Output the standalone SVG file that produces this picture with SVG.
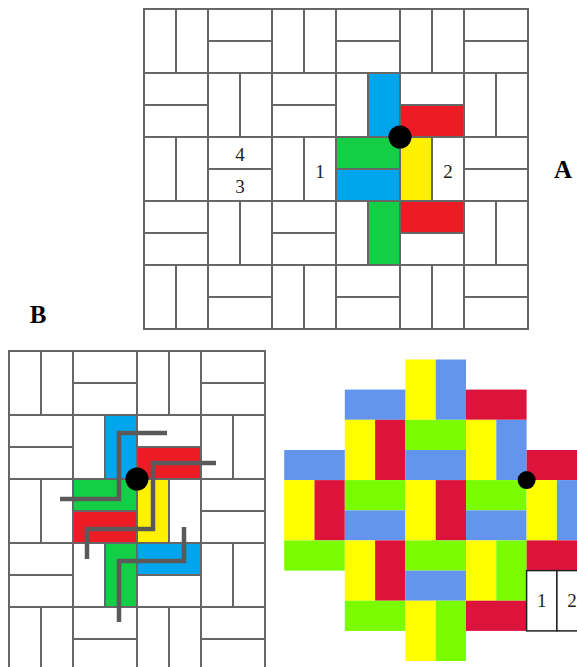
<svg xmlns="http://www.w3.org/2000/svg" width="577" height="667" viewBox="0 0 577 667">
<style>
.b{fill:#fff;stroke:#666;stroke-width:2}
.bl{fill:#00A6ED}.rd{fill:#ED1C24}.gr{fill:#12CF45}.ye{fill:#FFF100}
.t{font-family:"Liberation Serif","DejaVu Serif",serif;font-size:19px;fill:#222;text-anchor:middle}
.L{font-family:"Liberation Serif","DejaVu Serif",serif;font-size:25px;font-weight:bold;fill:#000;text-anchor:middle}
.p{fill:none;stroke:#5a5a5a;stroke-width:4.5}
.cb{fill:#6495ED}.cy{fill:#FFFF00}.cr{fill:#DC143C}.cg{fill:#7CFC00}
.w{fill:#fff;stroke:#222;stroke-width:1.5}
</style>
<rect width="577" height="667" fill="#fff"/>
<g id="diagramA">
<g class="b">
<!-- row 0 -->
<rect x="144" y="9" width="32" height="64"/><rect x="176" y="9" width="32" height="64"/>
<rect x="208" y="9" width="64" height="32"/><rect x="208" y="41" width="64" height="32"/>
<rect x="272" y="9" width="32" height="64"/><rect x="304" y="9" width="32" height="64"/>
<rect x="336" y="9" width="64" height="32"/><rect x="336" y="41" width="64" height="32"/>
<rect x="400" y="9" width="32" height="64"/><rect x="432" y="9" width="32" height="64"/>
<rect x="464" y="9" width="64" height="32"/><rect x="464" y="41" width="64" height="32"/>
<!-- row 1 -->
<rect x="144" y="73" width="64" height="32"/><rect x="144" y="105" width="64" height="32"/>
<rect x="208" y="73" width="32" height="64"/><rect x="240" y="73" width="32" height="64"/>
<rect x="272" y="73" width="64" height="32"/><rect x="272" y="105" width="64" height="32"/>
<rect x="336" y="73" width="32" height="64"/><rect x="368" y="73" width="32" height="64" class="bl"/>
<rect x="400" y="73" width="64" height="32"/><rect x="400" y="105" width="64" height="32" class="rd"/>
<rect x="464" y="73" width="32" height="64"/><rect x="496" y="73" width="32" height="64"/>
<!-- row 2 -->
<rect x="144" y="137" width="32" height="64"/><rect x="176" y="137" width="32" height="64"/>
<rect x="208" y="137" width="64" height="32"/><rect x="208" y="169" width="64" height="32"/>
<rect x="272" y="137" width="32" height="64"/><rect x="304" y="137" width="32" height="64"/>
<rect x="336" y="137" width="64" height="32" class="gr"/><rect x="336" y="169" width="64" height="32" class="bl"/>
<rect x="400" y="137" width="32" height="64" class="ye"/><rect x="432" y="137" width="32" height="64"/>
<rect x="464" y="137" width="64" height="32"/><rect x="464" y="169" width="64" height="32"/>
<!-- row 3 -->
<rect x="144" y="201" width="64" height="32"/><rect x="144" y="233" width="64" height="32"/>
<rect x="208" y="201" width="32" height="64"/><rect x="240" y="201" width="32" height="64"/>
<rect x="272" y="201" width="64" height="32"/><rect x="272" y="233" width="64" height="32"/>
<rect x="336" y="201" width="32" height="64"/><rect x="368" y="201" width="32" height="64" class="gr"/>
<rect x="400" y="201" width="64" height="32" class="rd"/><rect x="400" y="233" width="64" height="32"/>
<rect x="464" y="201" width="32" height="64"/><rect x="496" y="201" width="32" height="64"/>
<!-- row 4 -->
<rect x="144" y="265" width="32" height="64"/><rect x="176" y="265" width="32" height="64"/>
<rect x="208" y="265" width="64" height="32"/><rect x="208" y="297" width="64" height="32"/>
<rect x="272" y="265" width="32" height="64"/><rect x="304" y="265" width="32" height="64"/>
<rect x="336" y="265" width="64" height="32"/><rect x="336" y="297" width="64" height="32"/>
<rect x="400" y="265" width="32" height="64"/><rect x="432" y="265" width="32" height="64"/>
<rect x="464" y="265" width="64" height="32"/><rect x="464" y="297" width="64" height="32"/>
</g>
<circle cx="400" cy="137" r="11.5" fill="#000"/>
<text class="t" x="240" y="161">4</text>
<text class="t" x="240" y="193">3</text>
<text class="t" x="320" y="178">1</text>
<text class="t" x="448" y="178">2</text>
<text class="L" x="563" y="178">A</text>
</g>
<g id="diagramB">
<g class="b">
<!-- row 0 -->
<rect x="9" y="351" width="32" height="64"/><rect x="41" y="351" width="32" height="64"/>
<rect x="73" y="351" width="64" height="32"/><rect x="73" y="383" width="64" height="32"/>
<rect x="137" y="351" width="32" height="64"/><rect x="169" y="351" width="32" height="64"/>
<rect x="201" y="351" width="64" height="32"/><rect x="201" y="383" width="64" height="32"/>
<!-- row 1 -->
<rect x="9" y="415" width="64" height="32"/><rect x="9" y="447" width="64" height="32"/>
<rect x="73" y="415" width="32" height="64"/><rect x="105" y="415" width="32" height="64" class="bl"/>
<rect x="137" y="415" width="64" height="32"/><rect x="137" y="447" width="64" height="32" class="rd"/>
<rect x="201" y="415" width="32" height="64"/><rect x="233" y="415" width="32" height="64"/>
<!-- row 2 -->
<rect x="9" y="479" width="32" height="64"/><rect x="41" y="479" width="32" height="64"/>
<rect x="73" y="479" width="64" height="32" class="gr"/><rect x="73" y="511" width="64" height="32" class="rd"/>
<rect x="137" y="479" width="32" height="64" class="ye"/><rect x="169" y="479" width="32" height="64"/>
<rect x="201" y="479" width="64" height="32"/><rect x="201" y="511" width="64" height="32"/>
<!-- row 3 -->
<rect x="9" y="543" width="64" height="32"/><rect x="9" y="575" width="64" height="32"/>
<rect x="73" y="543" width="32" height="64"/><rect x="105" y="543" width="32" height="64" class="gr"/>
<rect x="137" y="543" width="64" height="32" class="bl"/><rect x="137" y="575" width="64" height="32"/>
<rect x="201" y="543" width="32" height="64"/><rect x="233" y="543" width="32" height="64"/>
<!-- row 4 -->
<rect x="9" y="607" width="32" height="64"/><rect x="41" y="607" width="32" height="64"/>
<rect x="73" y="607" width="64" height="32"/><rect x="73" y="639" width="64" height="32"/>
<rect x="137" y="607" width="32" height="64"/><rect x="169" y="607" width="32" height="64"/>
<rect x="201" y="607" width="64" height="32"/><rect x="201" y="639" width="64" height="32"/>
</g>
<g id="connectors">
<path class="p" d="M167 433 L119 433 L119 499 L60 499"/>
<path class="p" d="M216 463 L153 463 L153 529 L87 529 L87 559"/>
<path class="p" d="M184 527 L184 561 L119 561 L119 622"/>
</g>
<circle cx="137" cy="479" r="11.5" fill="#000"/>
<text class="L" x="38" y="323">B</text>
</g>
<g id="diagramC">
<!-- x0=284.2 u=30.3, y0=359.5 u=30.15 -->
<rect class="cy" x="405.4" y="359.5" width="30.3" height="60.3"/>
<rect class="cb" x="435.7" y="359.5" width="30.3" height="60.3"/>
<rect class="cb" x="344.8" y="389.6" width="60.6" height="30.2"/>
<rect class="cr" x="466" y="389.6" width="60.6" height="30.2"/>
<rect class="cy" x="344.8" y="419.8" width="30.3" height="60.3"/>
<rect class="cr" x="375.1" y="419.8" width="30.3" height="60.3"/>
<rect class="cg" x="405.4" y="419.8" width="60.6" height="30.2"/>
<rect class="cb" x="405.4" y="450" width="60.6" height="30.1"/>
<rect class="cy" x="466" y="419.8" width="30.3" height="60.3"/>
<rect class="cb" x="496.3" y="419.8" width="30.3" height="60.3"/>
<rect class="cb" x="284.2" y="450" width="60.6" height="30.1"/>
<rect class="cr" x="526.6" y="450" width="60.6" height="30.1"/>
<rect class="cy" x="284.2" y="480.1" width="30.3" height="60.3"/>
<rect class="cr" x="314.5" y="480.1" width="30.3" height="60.3"/>
<rect class="cg" x="344.8" y="480.1" width="60.6" height="30.2"/>
<rect class="cb" x="344.8" y="510.3" width="60.6" height="30.1"/>
<rect class="cy" x="405.4" y="480.1" width="30.3" height="60.3"/>
<rect class="cr" x="435.7" y="480.1" width="30.3" height="60.3"/>
<rect class="cg" x="466" y="480.1" width="60.6" height="30.2"/>
<rect class="cb" x="466" y="510.3" width="60.6" height="30.1"/>
<rect class="cy" x="526.6" y="480.1" width="30.3" height="60.3"/>
<rect class="cb" x="556.9" y="480.1" width="30.3" height="60.3"/>
<rect class="cg" x="284.2" y="540.4" width="60.6" height="30.2"/>
<rect class="cy" x="344.8" y="540.4" width="30.3" height="60.3"/>
<rect class="cr" x="375.1" y="540.4" width="30.3" height="60.3"/>
<rect class="cg" x="405.4" y="540.4" width="60.6" height="30.2"/>
<rect class="cb" x="405.4" y="570.6" width="60.6" height="30.1"/>
<rect class="cy" x="466" y="540.4" width="30.3" height="60.3"/>
<rect class="cg" x="496.3" y="540.4" width="30.3" height="60.3"/>
<rect class="cr" x="526.6" y="540.4" width="60.6" height="30.2"/>
<rect class="cg" x="344.8" y="600.7" width="60.6" height="30.2"/>
<rect class="cy" x="405.4" y="600.7" width="30.3" height="60.3"/>
<rect class="cg" x="435.7" y="600.7" width="30.3" height="60.3"/>
<rect class="cr" x="466" y="600.7" width="60.6" height="30.2"/>
<rect class="w" x="526.6" y="570.6" width="30.3" height="60.3"/>
<rect class="w" x="556.9" y="570.6" width="30.3" height="60.3"/>
<text class="t" x="541.7" y="607">1</text>
<text class="t" x="572" y="607">2</text>
<circle cx="526.6" cy="480.1" r="9" fill="#000"/>
</g>
</svg>
